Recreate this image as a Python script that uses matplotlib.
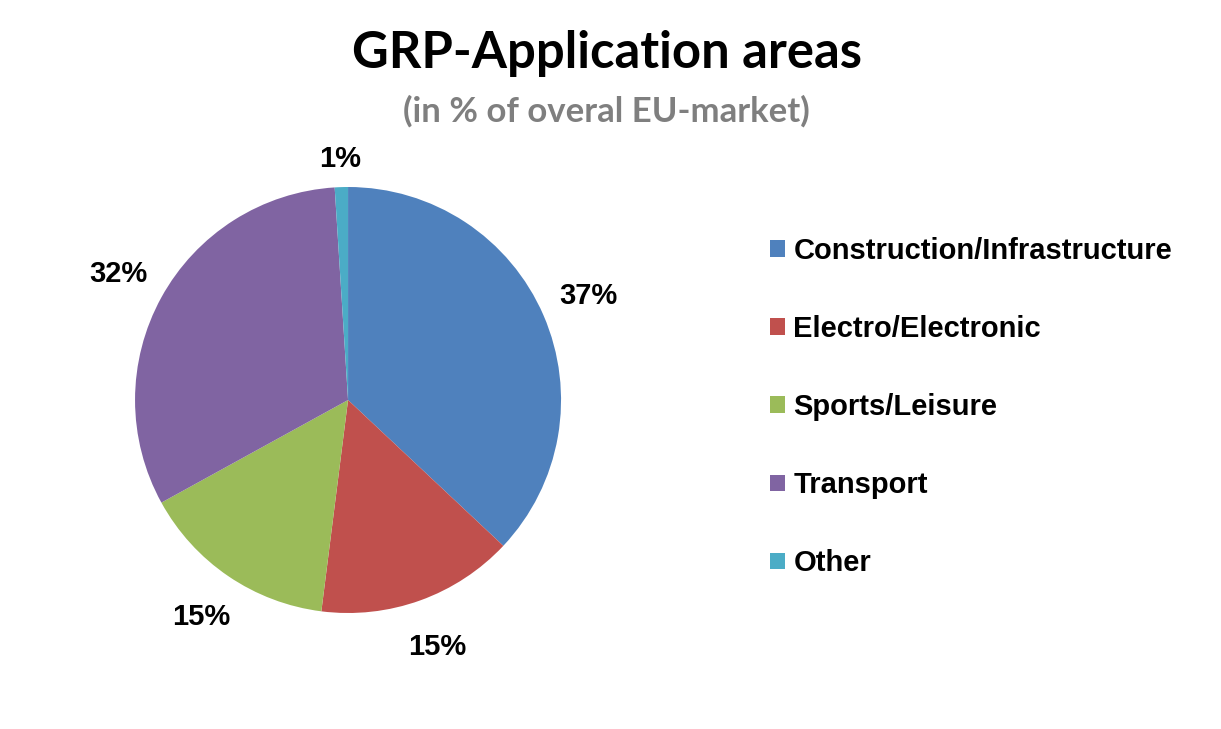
import matplotlib.pyplot as plt

# dados
categorias = ["Construction/Infrastructure", "Electro/Electronic", "Sports/Leisure",
              "Transport", "Other"]
valores = [37, 15, 15, 32, 1]
cores = ["#4F81BD", "#C0504D", "#9BBB59", "#8064A2", "#4BACC6"]

fig = plt.figure(figsize=(12.21, 7.29), dpi=100)
fig.patch.set_facecolor("white")

# eixo quadrado para a pizza (centro ~ (348, 400) px, raio ~ 213 px)
ax = fig.add_axes([0.1106, 0.1591, 0.3489, 0.5844])
fatias, _, textos = ax.pie(valores, colors=cores, startangle=90, counterclock=False,
                           autopct="%.0f%%", pctdistance=1.23, radius=1.0,
                           textprops=dict(family="Liberation Sans", weight="bold",
                                          fontsize=21, color="black"))
# o rótulo de 1% fica mais perto da borda
x, y = textos[4].get_position()
textos[4].set_position((x * 0.92, y * 0.92))
ax.set_xlim(-1, 1)
ax.set_ylim(-1, 1)
ax.set_aspect("equal")
ax.axis("off")

fig.text(0.497, 0.926, "GRP-Application areas", ha="center", va="center",
         family="Lato", weight="bold", fontsize=36.5, color="black")
fig.text(0.497, 0.847, "(in % of overal EU-market)", ha="center", va="center",
         family="Lato", weight="bold", fontsize=25, color="#7F7F7F")

leg = fig.legend(fatias, categorias, loc="center left", bbox_to_anchor=(0.6306, 0.4417),
                 frameon=False, borderpad=0, borderaxespad=0,
                 handlelength=0.5, handleheight=0.5, handletextpad=0.3,
                 labelspacing=1.72,
                 prop=dict(family="Liberation Sans", weight="bold", size=21))

fig.savefig("out.png", dpi=100)
